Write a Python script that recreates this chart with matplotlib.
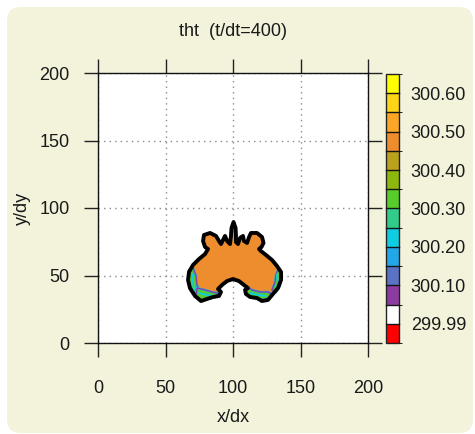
import matplotlib
matplotlib.use("Agg")
import matplotlib.pyplot as plt
from matplotlib.colors import ListedColormap, BoundaryNorm
from matplotlib.colorbar import ColorbarBase
from matplotlib.patches import FancyBboxPatch, Polygon

# ---------------- data ----------------
title = "tht  (t/dt=400)"
xlabel = "x/dx"
ylabel = "y/dy"
xticks = [0, 50, 100, 150, 200]
yticks = [0, 50, 100, 150, 200]

levels = [299.94, 299.99, 300.05, 300.10, 300.15, 300.20, 300.25, 300.30,
          300.35, 300.40, 300.45, 300.50, 300.55, 300.60, 300.65]
level_colors = ["#ff0000", "#ffffff", "#8c3ba0", "#5a73c4", "#22a8e8", "#0ecde0",
                "#32cc8a", "#58cc2a", "#8cb80e", "#bba21c", "#ee8d2d", "#fba624",
                "#fed418", "#ffff00"]
cbar_ticks = [299.99, 300.10, 300.20, 300.30, 300.40, 300.50, 300.60]

# thermal outline (theta ~ 300.47), in x/dx, y/dy
body_x = [100.4, 101.9, 102.2, 102.2, 103.7, 105.2, 107.4, 108.1, 110.4, 111.9,
          113.3, 117.8, 121.5, 122.6, 121.1, 119.3, 120.7, 124.4, 128.9, 132.6, 135.6,
          135.6, 133.3, 129.6, 125.9, 121.5, 117.8, 112.6, 109.6, 108.9, 111.1,
          108.1, 104.4, 100.0, 95.6, 91.9, 88.9, 91.1, 89.6, 85.2, 80.7,
          76.3, 71.9, 68.1, 66.7, 67.4, 70.4, 74.8, 79.3, 81.5, 79.3,
          77.8, 78.5, 83.0, 87.4, 89.6, 91.1, 92.6, 94.1, 95.6, 97.8, 98.5, 98.9]
body_y = [89.6, 85.2, 79.3, 74.8, 73.3, 77.8, 79.3, 75.6, 74.1, 78.5,
          81.5, 81.5, 78.5, 74.1, 71.1, 69.6, 68.1, 65.2, 61.5, 57.0, 52.6,
          46.7, 40.7, 36.3, 31.9, 31.1, 33.3, 34.1, 36.3, 39.3, 40.7,
          43.0, 45.9, 47.4, 45.9, 43.0, 40.0, 37.8, 34.8, 34.1, 32.6,
          31.1, 34.8, 40.7, 46.7, 52.6, 57.8, 62.2, 65.9, 69.6, 71.1,
          75.6, 80.0, 81.5, 79.3, 75.6, 73.3, 76.3, 79.3, 75.6, 73.3, 79.3, 85.2]

# mixed (cooler) regions on the lobes, theta ~ 300.30
left_edge_x = [67.4, 70.4, 72.6, 73.3, 75.6, 71.9, 68.1, 66.7]
left_edge_y = [54.1, 55.6, 49.6, 43.0, 37.8, 36.3, 41.5, 48.1]
left_swirl_x = [73.3, 79.3, 84.4, 88.9, 87.4, 81.5, 76.3, 72.6]
left_swirl_y = [40.7, 39.3, 37.8, 37.0, 34.1, 32.6, 31.9, 34.8]
right_edge_x = [134.1, 135.6, 134.8, 131.9, 128.9, 131.1, 131.9]
right_edge_y = [55.6, 49.6, 42.2, 37.8, 39.3, 45.2, 51.1]
right_swirl_x = [109.6, 114.1, 120.0, 125.9, 128.9, 125.9, 120.0, 114.1, 109.6, 108.9]
right_swirl_y = [42.2, 39.3, 37.8, 37.8, 36.3, 32.6, 31.9, 34.1, 36.3, 39.3]
# thin filaments (theta ~ 300.22) inside the lobes
left_fil_x = [74.8, 80.7, 85.9]
left_fil_y = [37.0, 35.6, 34.8]
right_fil_x = [112.6, 118.5, 124.4]
right_fil_y = [37.0, 35.6, 34.8]
left_edge_fil_x = [69.6, 70.4, 71.1]
left_edge_fil_y = [51.1, 45.2, 39.3]
right_edge_fil_x = [132.6, 133.3, 132.6]
right_edge_fil_y = [51.1, 45.2, 40.0]

# ---------------- figure ----------------
plt.rcParams['font.family'] = ['Liberation Sans', 'DejaVu Sans']
txt = "#1a1a1a"
fig = plt.figure(figsize=(4.75, 4.34), dpi=100, facecolor="white")

panel = FancyBboxPatch((0.07, 0.01), 4.66, 4.26,
                       boxstyle="round,pad=0,rounding_size=0.14",
                       transform=fig.dpi_scale_trans, facecolor="#f3f3dc",
                       edgecolor="none", zorder=-10)
fig.patches.append(panel)

ax = fig.add_axes([98/475, 1-343/434, 270/475, 270/434])
ax.set_zorder(1)
ax.set_facecolor("white")
ax.set_xlim(0, 200)
ax.set_ylim(0, 200)
ax.set_xticks(xticks)
ax.set_yticks(yticks)
ax.grid(True, linestyle=(0, (1, 3)), color="#8a8a8a", linewidth=1.0, zorder=1)
ax.set_axisbelow(True)
ax.tick_params(direction="out", length=10, width=1, color="#222222",
               top=True, right=True, labelsize=13, labelcolor=txt)
ax.tick_params(axis="x", pad=16.5)
ax.tick_params(axis="y", pad=10.5)
for s in ax.spines.values():
    s.set_linewidth(1.0)
    s.set_color("#111111")

def lev_color(v):
    for i in range(len(levels) - 1):
        if levels[i] <= v < levels[i + 1]:
            return level_colors[i]
    return level_colors[-1]

ax.add_patch(Polygon(list(zip(body_x, body_y)), closed=True,
                     facecolor=lev_color(300.47), edgecolor="none", zorder=3))
for xs, ys in [(left_edge_x, left_edge_y), (left_swirl_x, left_swirl_y),
               (right_edge_x, right_edge_y), (right_swirl_x, right_swirl_y)]:
    ax.add_patch(Polygon(list(zip(xs, ys)), closed=True,
                         facecolor=lev_color(300.32), edgecolor=lev_color(300.17),
                         linewidth=1.6, zorder=4))
    ax.add_patch(Polygon(list(zip(xs, ys)), closed=True,
                         facecolor="none", edgecolor=lev_color(300.07),
                         linewidth=0.8, zorder=4))
for xs, ys in [(left_fil_x, left_fil_y), (right_fil_x, right_fil_y),
               (left_edge_fil_x, left_edge_fil_y), (right_edge_fil_x, right_edge_fil_y)]:
    ax.plot(xs, ys, color=lev_color(300.22), linewidth=1.4, zorder=4.5,
            solid_capstyle="round")
ax.add_patch(Polygon(list(zip(body_x, body_y)), closed=True,
                     facecolor="none", edgecolor="black", linewidth=2.8,
                     joinstyle="round", zorder=5))

# colorbar
cax = fig.add_axes([386/475, 1-343/434, 13/475, 269/434])
cax.set_zorder(1)
cmap = ListedColormap(level_colors)
norm = BoundaryNorm(levels, cmap.N)
cb = ColorbarBase(cax, cmap=cmap, norm=norm, boundaries=levels,
                  spacing="uniform", ticks=cbar_ticks)
nb = len(level_colors)
for i in range(1, nb):
    cax.plot([0, 1], [i / nb, i / nb], transform=cax.transAxes,
             color="#151515", linewidth=1.0, zorder=10, clip_on=False)
cb.ax.set_yticklabels([f"{t:.2f}" for t in cbar_ticks])
cb.outline.set_linewidth(1.0)
cb.outline.set_edgecolor("#222222")
cax.tick_params(length=0, pad=8.5, labelsize=13, labelcolor=txt)

fig.text(233/475, 1-31/434, title, ha="center", va="center", fontsize=13, color=txt)
fig.text(233/475, 1-418/434, xlabel, ha="center", va="center", fontsize=13, color=txt)
fig.text(22/475, 1-208/434, ylabel, ha="center", va="center", fontsize=13,
         color=txt, rotation=90)

fig.savefig("out.png", dpi=100, facecolor="white")
